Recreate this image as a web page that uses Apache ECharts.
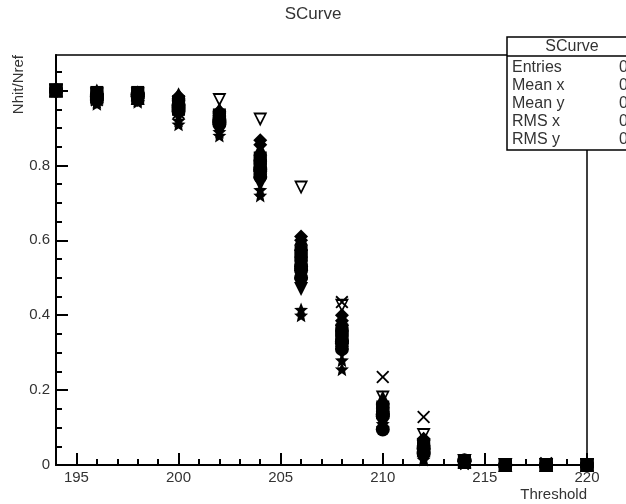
<!DOCTYPE html>
<html>
<head>
<meta charset="utf-8">
<script src="https://cdn.jsdelivr.net/npm/echarts@6/dist/echarts.min.js"></script>
<style>
  html, body { margin: 0; padding: 0; background: #fff; }
  #chart { width: 626px; height: 504px; }
</style>
</head>
<body>
<div id="chart"></div>
<script>
// Threshold scan points (x) and efficiency Nhit/Nref for each channel
const thresholds = [194, 196, 198, 200, 202, 204, 206, 208, 210, 212, 214, 216, 218, 220];

const ch01 = [1.0, 0.99, 0.995, 0.97, 0.935, 0.80, 0.56, 0.35, 0.155, 0.045, 0.01, 0, 0, 0];
const ch02 = [1.0, 0.975, 0.985, 0.945, 0.915, 0.77, 0.52, 0.31, 0.095, 0.03, 0.012, 0, 0, 0];
const ch03 = [1.0, 1.0, 0.99, 0.99, 0.95, 0.845, 0.605, 0.39, 0.18, 0.07, 0.008, 0, 0, 0];
const ch04 = [1.0, 0.97, 0.975, 0.93, 0.90, 0.75, 0.47, 0.30, 0.12, 0.05, 0.01, 0, 0, 0];
const ch05 = [1.0, 0.99, 0.995, 0.975, 0.94, 0.867, 0.61, 0.40, 0.165, 0.07, 0.01, 0, 0, 0];
const ch06 = [1.0, 0.965, 0.97, 0.91, 0.88, 0.72, 0.415, 0.256, 0.10, 0.02, 0.005, 0, 0, 0];
const ch07 = [1.0, 0.98, 0.98, 0.95, 0.925, 0.81, 0.57, 0.36, 0.14, 0.04, 0.01, 0, 0, 0];
const ch08 = [1.0, 0.97, 0.975, 0.92, 0.89, 0.735, 0.40, 0.28, 0.11, 0.015, 0.005, 0, 0, 0];
const ch09 = [1.0, 0.985, 0.99, 0.96, 0.92, 0.785, 0.50, 0.325, 0.13, 0.035, 0.01, 0, 0, 0];
const ch10 = [1.0, 0.995, 0.98, 0.98, 0.945, 0.83, 0.59, 0.375, 0.17, 0.06, 0.012, 0, 0, 0];
const ch11 = [1.0, 0.975, 0.975, 0.935, 0.905, 0.76, 0.48, 0.315, 0.125, 0.025, 0.01, 0, 0, 0];
const ch12 = [1.0, 0.995, 0.99, 0.965, 0.93, 0.82, 0.54, 0.345, 0.15, 0.055, 0.01, 0, 0, 0];
const ch13 = [1.0, 0.98, 0.985, 0.955, 0.91, 0.79, 0.53, 0.33, 0.135, 0.045, 0.012, 0, 0, 0];
const ch14 = [1.0, 0.99, 0.99, 0.985, 0.945, 0.855, 0.60, 0.385, 0.16, 0.065, 0.01, 0, 0, 0];
const ch15 = [1.0, 0.99, 0.99, 0.96, 0.975, 0.923, 0.741, 0.425, 0.18, 0.08, 0.01, 0, 0, 0];
const ch16 = [1.0, 0.975, 0.985, 0.94, 0.92, 0.79, 0.56, 0.435, 0.235, 0.128, 0.01, 0, 0.005, 0];

// Axis ticks
const xMajorTicks = [195, 200, 205, 210, 215, 220];
const xMinorTicks = [194,195,196,197,198,199,200,201,202,203,204,205,206,207,208,209,210,211,212,213,214,215,216,217,218,219,220];
const yMajorTicks = [0, 0.2, 0.4, 0.6, 0.8, 1.0];
const yLabelTicks = [0, 0.2, 0.4, 0.6, 0.8];
const yMinorTicks = [0,0.05,0.1,0.15,0.2,0.25,0.3,0.35,0.4,0.45,0.5,0.55,0.6,0.65,0.7,0.75,0.8,0.85,0.9,0.95,1.0,1.05];

// Stats box rows
const statNames = ['Entries', 'Mean x', 'Mean y', 'RMS x', 'RMS y'];
const statValues = ['0', '0', '0', '0', '0'];

const FONT = '"Liberation Sans", Arial, sans-serif';
const TXT = '#333';

const STAR = 'path://M10,0 L12.9,7 L20,7.6 L14.6,12.2 L16.2,19.5 L10,15.6 L3.8,19.5 L5.4,12.2 L0,7.6 L7.1,7 Z';
const XMARK = 'path://M0,2 L2,0 L10,8 L18,0 L20,2 L12,10 L20,18 L18,20 L10,12 L2,20 L0,18 L8,10 Z';
const OPEN_TRI_DOWN = 'path://M0,0 L20,0 L10,18 Z M4,2.6 L10,13 L16,2.6 Z';

function pts(vals) { return thresholds.map((x, i) => [x, vals[i]]); }

function marker(name, vals, symbol, size, rotate) {
  return {
    name, type: 'scatter', xAxisIndex: 0, yAxisIndex: 0,
    data: pts(vals), symbol, symbolSize: size, symbolRotate: rotate || 0,
    itemStyle: { color: '#000', opacity: 1 },
    emphasis: { disabled: true },
    silent: true, animation: false, z: 3
  };
}

const chart = echarts.init(document.getElementById('chart'), null, { renderer: 'canvas' });

const statsElems = [
  { type: 'rect', shape: { x: 507, y: 37, width: 140, height: 113 },
    style: { fill: '#fff', stroke: '#000', lineWidth: 1.5 }, z: 100 },
  { type: 'line', shape: { x1: 507, y1: 56, x2: 640, y2: 56 },
    style: { stroke: '#000', lineWidth: 1.5 }, z: 101 },
  { type: 'text', x: 572, y: 47, z: 101,
    style: { text: 'SCurve', font: '16px ' + FONT, fill: TXT, textAlign: 'center', textVerticalAlign: 'middle' } }
];
statNames.forEach((n, i) => {
  statsElems.push({ type: 'text', x: 512, y: 68 + i * 18, z: 101,
    style: { text: n, font: '16px ' + FONT, fill: TXT, textAlign: 'left', textVerticalAlign: 'middle' } });
  statsElems.push({ type: 'text', x: 619, y: 68 + i * 18, z: 101,
    style: { text: statValues[i], font: '16px ' + FONT, fill: TXT, textAlign: 'left', textVerticalAlign: 'middle' } });
});

chart.setOption({
  backgroundColor: '#fff',
  animation: false,
  title: {
    text: 'SCurve', left: 'center', top: 1,
    textStyle: { fontFamily: FONT, fontSize: 17, fontWeight: 'normal', color: TXT }
  },
  grid: {
    left: 56, right: 39, top: 55, bottom: 39,
    show: true, borderColor: '#000', borderWidth: 1.5, backgroundColor: 'transparent'
  },
  xAxis: [
    {
      type: 'value', min: 194, max: 220, position: 'bottom',
      name: 'Threshold', nameLocation: 'end', nameGap: 0,
      nameTextStyle: { fontFamily: FONT, fontSize: 15, color: TXT, align: 'right', verticalAlign: 'top', padding: [22, 0, 0, 0] },
      axisLine: { show: true, onZero: false, lineStyle: { color: '#000', width: 2 } },
      axisTick: { show: true, inside: true, length: 12, customValues: xMajorTicks, lineStyle: { color: '#000', width: 2 } },
      axisLabel: { customValues: xMajorTicks, margin: 5, fontFamily: FONT, fontSize: 15, color: TXT },
      splitLine: { show: false }
    },
    {
      type: 'value', min: 194, max: 220, position: 'bottom',
      axisLine: { show: false, onZero: false },
      axisTick: { show: true, inside: true, length: 6, customValues: xMinorTicks, lineStyle: { color: '#000', width: 2 } },
      axisLabel: { show: false },
      splitLine: { show: false }
    }
  ],
  yAxis: [
    {
      type: 'value', min: 0, max: 1.095, position: 'left',
      name: 'Nhit/Nref', nameLocation: 'end', nameGap: 0, nameRotate: 90,
      nameTextStyle: { fontFamily: FONT, fontSize: 15, color: TXT, align: 'right', verticalAlign: 'bottom', padding: [0, 0, 30, 0] },
      axisLine: { show: true, onZero: false, lineStyle: { color: '#000', width: 2 } },
      axisTick: { show: true, inside: true, length: 12, customValues: yMajorTicks, lineStyle: { color: '#000', width: 2 } },
      axisLabel: { customValues: yLabelTicks, margin: 6, fontFamily: FONT, fontSize: 15, color: TXT },
      splitLine: { show: false }
    },
    {
      type: 'value', min: 0, max: 1.095, position: 'left',
      axisLine: { show: false, onZero: false },
      axisTick: { show: true, inside: true, length: 6, customValues: yMinorTicks, lineStyle: { color: '#000', width: 2 } },
      axisLabel: { show: false },
      splitLine: { show: false }
    }
  ],
  series: [
    marker('ch01', ch01, 'rect', 13),
    marker('ch02', ch02, 'circle', 14),
    marker('ch03', ch03, 'triangle', 14),
    marker('ch04', ch04, 'triangle', 14, 180),
    marker('ch05', ch05, 'diamond', 14),
    marker('ch06', ch06, STAR, 14),
    marker('ch07', ch07, 'rect', 13),
    marker('ch08', ch08, STAR, 14),
    marker('ch09', ch09, 'circle', 14),
    marker('ch10', ch10, 'triangle', 14),
    marker('ch11', ch11, 'triangle', 14, 180),
    marker('ch12', ch12, 'rect', 13),
    marker('ch13', ch13, 'circle', 14),
    marker('ch14', ch14, 'diamond', 14),
    marker('ch15', ch15, OPEN_TRI_DOWN, 14),
    marker('ch16', ch16, XMARK, 13)
  ],
  graphic: { elements: statsElems }
});
</script>
</body>
</html>
